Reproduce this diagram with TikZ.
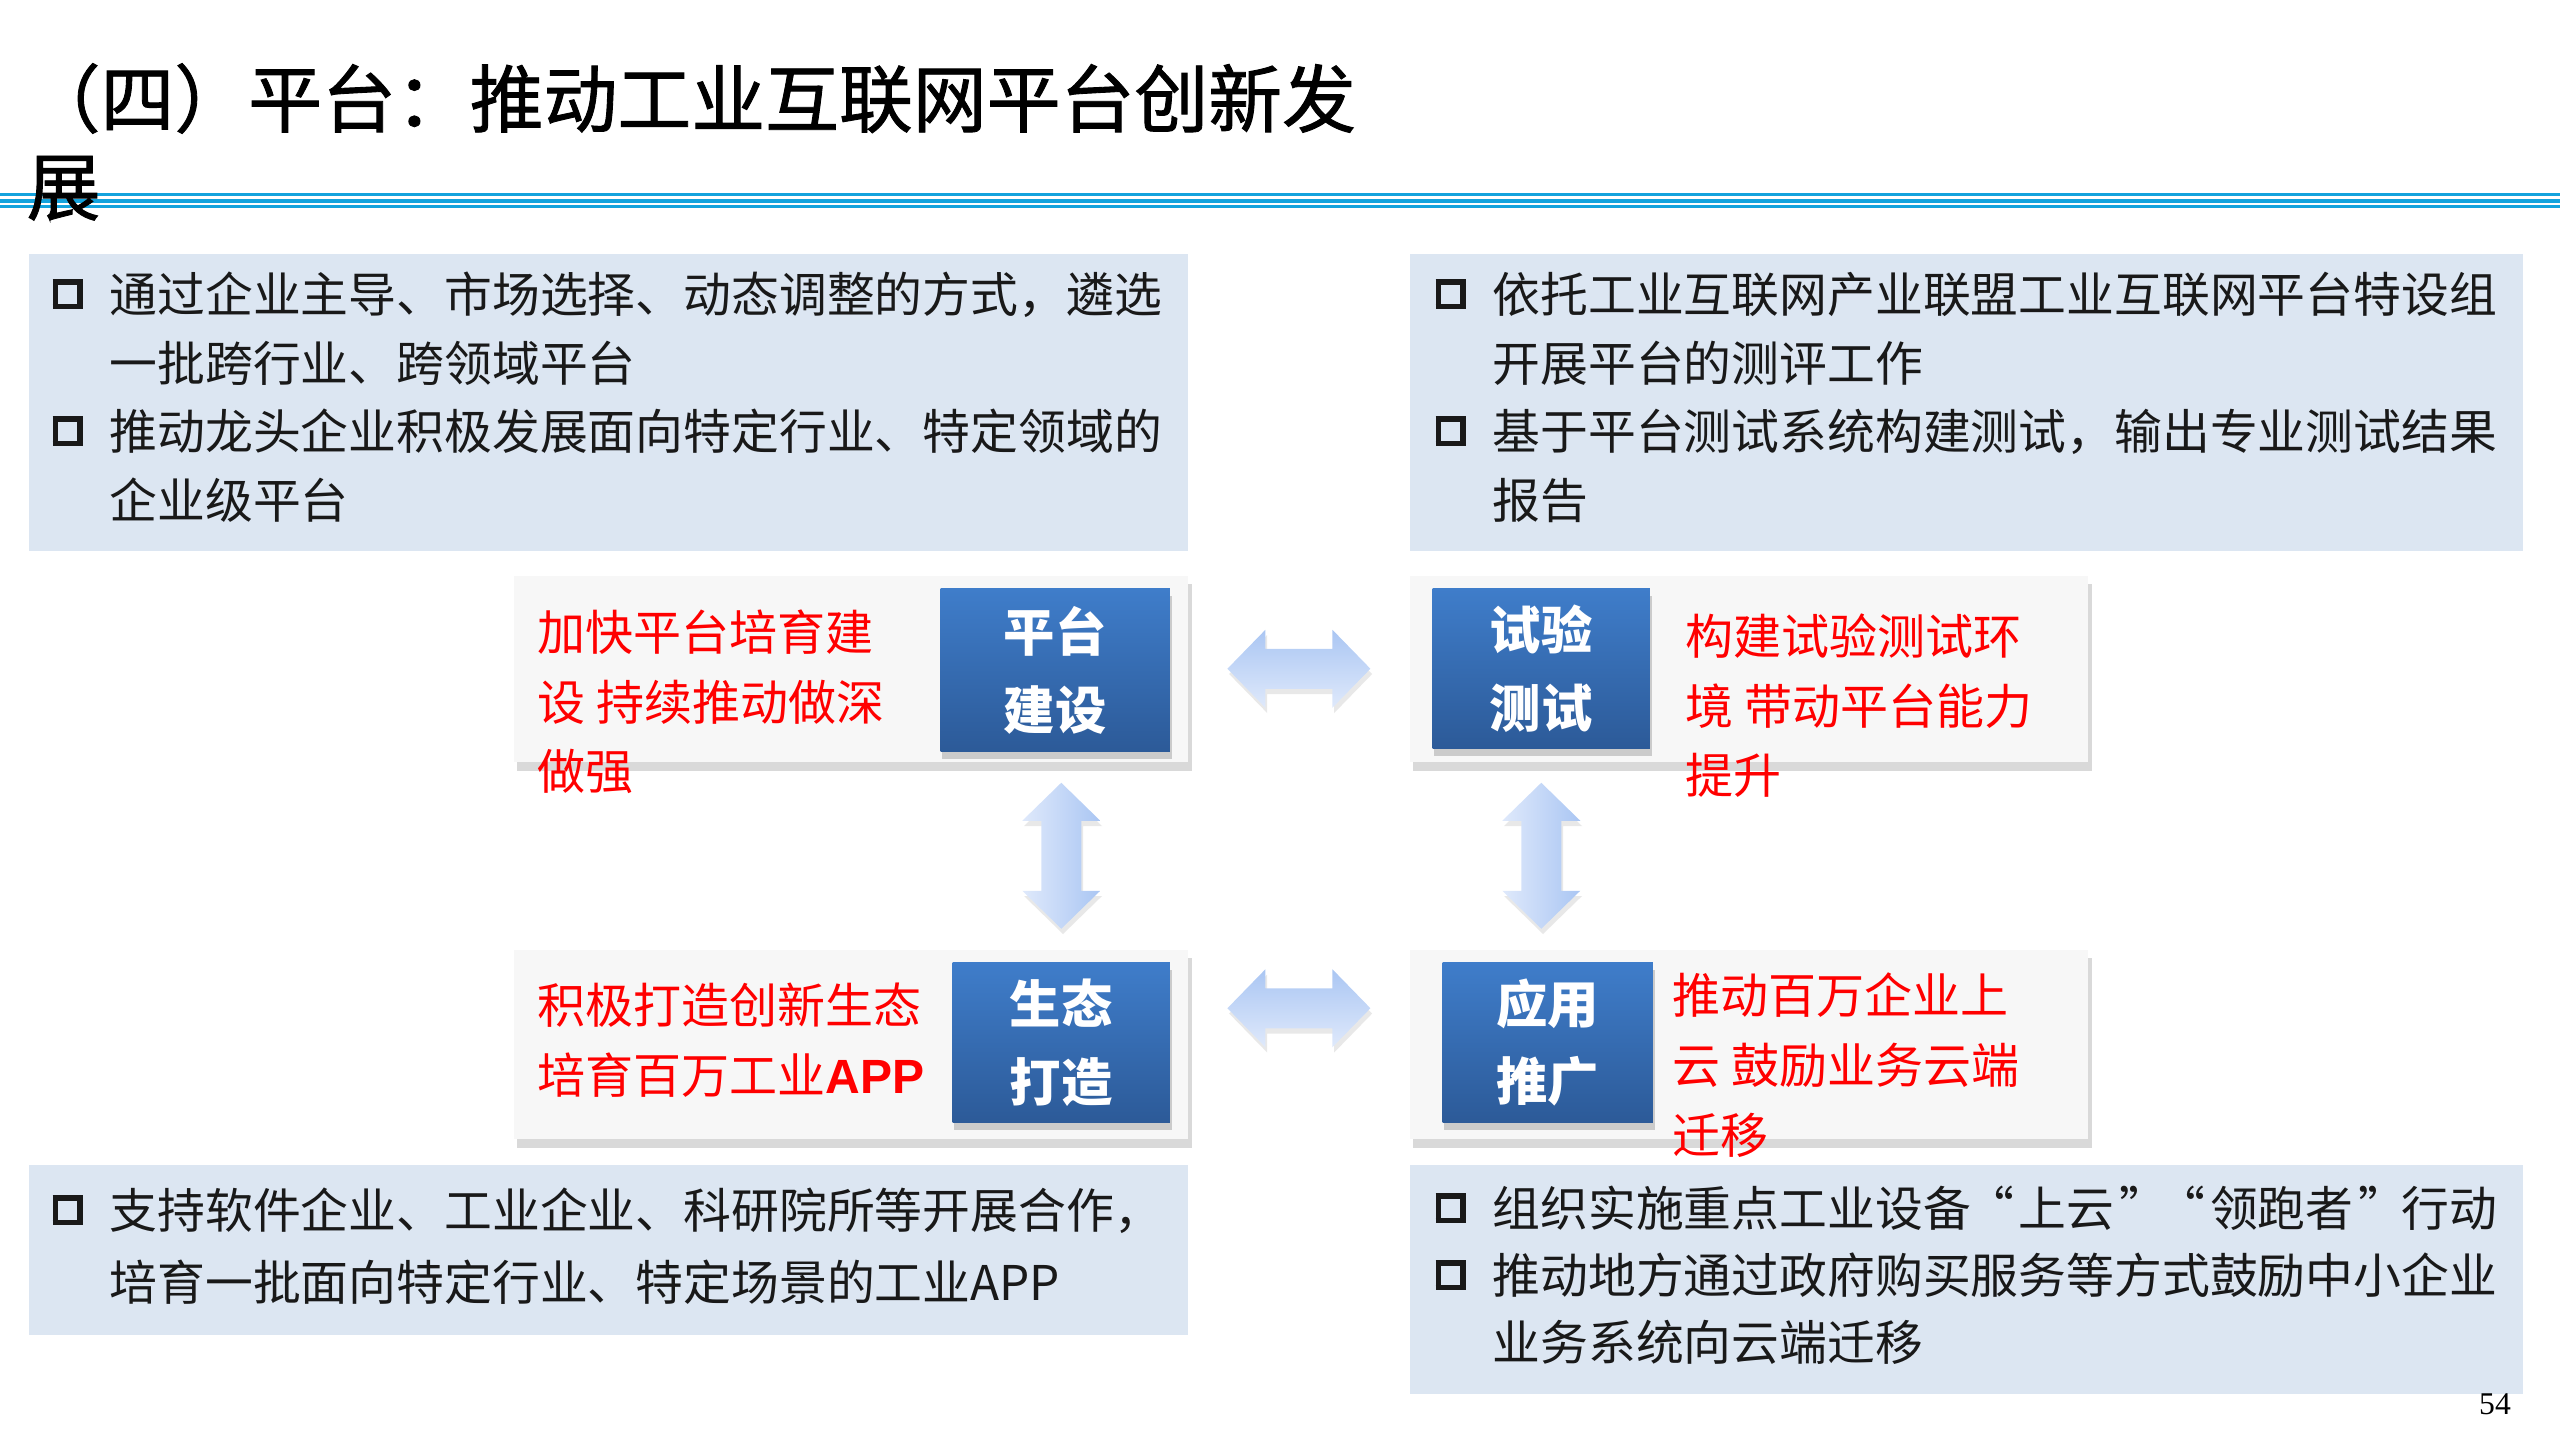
\documentclass[tikz,border=0pt]{standalone}
\usepackage{fontspec}
\setmainfont{Noto Sans CJK SC}
\newfontfamily\titlefont[FakeBold=1.2]{Noto Sans CJK SC}
\newfontfamily\latinbold{Liberation Sans}
\newfontfamily\pagefont{Liberation Serif}
\usetikzlibrary{calc,shadows}
\definecolor{rulecyan}{HTML}{14A3DD}
\definecolor{infofill}{HTML}{DCE6F2}
\definecolor{panelfill}{HTML}{F7F7F7}
\definecolor{boxtop}{HTML}{3F7DCA}
\definecolor{boxbot}{HTML}{2C5A98}
\definecolor{arrowlight}{HTML}{DFE9FB}
\definecolor{arrowdark}{HTML}{AAC6F3}
\definecolor{memred}{HTML}{FF0000}
\newcommand{\sqmark}{\raisebox{2.55pt}{\setlength{\fboxrule}{1.6pt}\setlength{\fboxsep}{0pt}\fbox{\rule{0pt}{5.3pt}\hspace{5.3pt}}}\hspace{7.7pt}}
\newcommand{\hangin}{\hspace*{16.2pt}}
\newcommand{\topstrut}{\rule{0pt}{1em}}
\newcommand{\openq}{\makebox[1em][l]{\kern-0.1em “}}
\newcommand{\closeq}{\makebox[1em][l]{\kern0.1em ”}}

\begin{document}
\begin{tikzpicture}[
  x=0.01cm, y=-0.01cm,
  infobox/.style={
    rectangle,
    fill=infofill,
    anchor=north west,
    inner sep=0pt
  },
  panel/.style={
    rectangle,
    fill=panelfill,
    anchor=north west,
    inner sep=0pt,
    drop shadow={shadow xshift=1pt, shadow yshift=-2.5pt, opacity=0.25, fill=black!60}
  },
  bluebox/.style={
    rectangle,
    anchor=north west,
    inner sep=0pt,
    top color=boxtop,
    bottom color=boxbot,
    text=white,
    align=center,
    font=\fontsize{14.6}{22}\selectfont\bfseries,
    drop shadow={shadow xshift=0.5pt, shadow yshift=-2pt, opacity=0.3, fill=black!60}
  },
  bullettext/.style={anchor=north west, inner sep=0pt, align=left, text=black!90, font=\fontsize{13.6}{19.5}\selectfont},
  redtext/.style={anchor=north west, inner sep=0pt, align=left, text=memred, font=\fontsize{13.66}{19.8}\selectfont},
  cyanrule/.style={draw=rulecyan},
  hblock/.style={top color=arrowdark, bottom color=arrowlight, drop shadow={shadow xshift=0.5pt, shadow yshift=-1.5pt, opacity=0.15, fill=black!60}},
  vblock/.style={left color=arrowlight, right color=arrowdark, drop shadow={shadow xshift=0.5pt, shadow yshift=-1.5pt, opacity=0.15, fill=black!60}}
]
\useasboundingbox (0,0) rectangle (2560,1440);

% title and rules
\draw[cyanrule, line width=0.03cm] (0,195) -- (2560,195);
\draw[cyanrule, line width=0.045cm] (0,201) -- (2560,201);
\draw[cyanrule, line width=0.03cm] (0,207) -- (2560,207);
\node[anchor=north west, inner sep=0pt, align=left, font=\titlefont\fontsize{21}{25}\selectfont] (title) at (26,52) {\topstrut（四）平台：推动工业互联网平台创新发\\展};

% four info boxes
\node[infobox, minimum width=11.59cm, minimum height=2.97cm] (tl) at (28,253) {};
\node[infobox, minimum width=11.13cm, minimum height=2.97cm] (tr) at (1409,253) {};
\node[infobox, minimum width=11.59cm, minimum height=1.70cm] (bl) at (28,1164) {};
\node[infobox, minimum width=11.13cm, minimum height=2.29cm] (br) at (1409,1164) {};

\node[bullettext] (tltext) at ($(tl.north west)+(24,11)$) {\topstrut\sqmark 通过企业主导、市场选择、动态调整的方式，遴选\\\hangin 一批跨行业、跨领域平台\\\sqmark 推动龙头企业积极发展面向特定行业、特定领域的\\\hangin 企业级平台};
\node[bullettext] (trtext) at ($(tr.north west)+(26,11)$) {\topstrut\sqmark 依托工业互联网产业联盟工业互联网平台特设组\\\hangin 开展平台的测评工作\\\sqmark 基于平台测试系统构建测试，输出专业测试结果\\\hangin 报告};
\node[bullettext, font=\fontsize{13.6}{20.5}\selectfont] (bltext) at ($(bl.north west)+(24,16)$) {\topstrut\sqmark 支持软件企业、工业企业、科研院所等开展合作，\\\hangin 培育一批面向特定行业、特定场景的工业APP};
\node[bullettext, font=\fontsize{13.6}{19.1}\selectfont] (brtext) at ($(br.north west)+(26,14)$) {\topstrut\sqmark 组织实施重点工业设备\openq 上云\closeq\openq 领跑者\closeq 行动\\\sqmark 推动地方通过政府购买服务等方式鼓励中小企业\\\hangin 业务系统向云端迁移};

% four panels
\node[panel, minimum width=6.74cm, minimum height=1.86cm] (pt) at (513,575) {};
\node[panel, minimum width=6.78cm, minimum height=1.86cm] (st) at (1409,575) {};
\node[panel, minimum width=6.74cm, minimum height=1.89cm] (eco) at (513,949) {};
\node[panel, minimum width=6.78cm, minimum height=1.89cm] (ap) at (1409,949) {};

\node[bluebox, minimum width=2.29cm, minimum height=1.63cm] (pbox) at ($(pt.north west)+(427,13)$) {平台\\建设};
\node[bluebox, minimum width=2.17cm, minimum height=1.60cm] (tbox) at ($(st.north west)+(23,13)$) {试验\\测试};
\node[bluebox, minimum width=2.17cm, minimum height=1.60cm] (ebox) at ($(eco.north west)+(439,13)$) {生态\\打造};
\node[bluebox, minimum width=2.10cm, minimum height=1.60cm] (abox) at ($(ap.north west)+(33,13)$) {应用\\推广};

\node[redtext] (ptnote) at ($(pt.north west)+(24,27)$) {\topstrut 加快平台培育建\\设 持续推动做深\\做强};
\node[redtext] (stnote) at ($(st.north west)+(276,31)$) {\topstrut 构建试验测试环\\境 带动平台能力\\提升};
\node[redtext] (econote) at ($(eco.north west)+(24,26)$) {\topstrut 积极打造创新生态\\培育百万工业{\latinbold\bfseries APP}};
\node[redtext] (apnote) at ($(ap.north west)+(263,16)$) {\topstrut 推动百万企业上\\云 鼓励业务云端\\迁移};

% block arrows between panels
\coordinate (h1) at ($(pt.east)!0.5!(st.west)$);
\coordinate (h2) at ($(eco.east)!0.5!(ap.west)+(0,-36)$);
\coordinate (m1) at ($(pt.south)!0.5!(eco.north)$);
\coordinate (v1) at (ebox.north |- m1);
\coordinate (m2) at ($(st.south)!0.5!(ap.north)$);
\coordinate (v2) at (tbox.north |- m2);

\shade[hblock] ($(h1)+(-71.5,0)$) -- ++(38,-39) -- ++(0,19) -- ++(67,0) -- ++(0,-19) -- ++(38,39) -- ++(-38,39) -- ++(0,-19) -- ++(-67,0) -- ++(0,19) -- cycle;
\shade[hblock] ($(h2)+(-71.5,0)$) -- ++(38,-39) -- ++(0,19) -- ++(67,0) -- ++(0,-19) -- ++(38,39) -- ++(-38,39) -- ++(0,-19) -- ++(-67,0) -- ++(0,19) -- cycle;
\shade[vblock] ($(v1)+(0,-73)$) -- ++(39,38) -- ++(-19,0) -- ++(0,70) -- ++(19,0) -- ++(-39,38) -- ++(-39,-38) -- ++(19,0) -- ++(0,-70) -- ++(-19,0) -- cycle;
\shade[vblock] ($(v2)+(0,-73)$) -- ++(39,38) -- ++(-19,0) -- ++(0,70) -- ++(19,0) -- ++(-39,38) -- ++(-39,-38) -- ++(19,0) -- ++(0,-70) -- ++(-19,0) -- cycle;

\node[inner sep=0pt, font=\pagefont\fontsize{9}{10}\selectfont] (pnum) at (2495,1404) {54};
\end{tikzpicture}
\end{document}
